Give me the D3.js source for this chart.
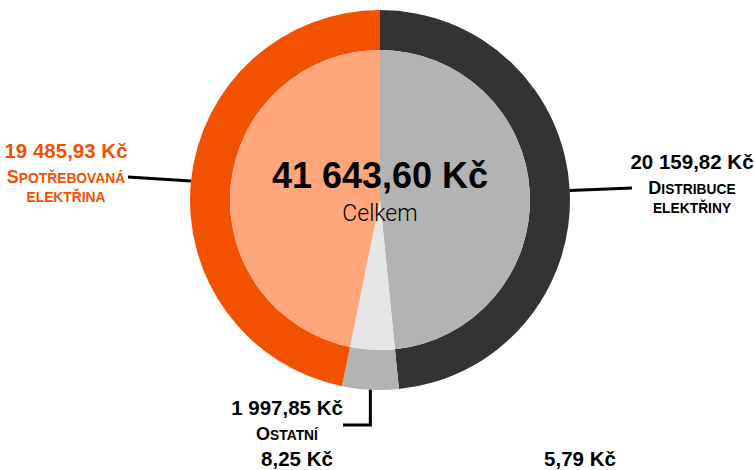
<!DOCTYPE html>
<html lang="cs">
<head>
    <meta charset="UTF-8">
    <title>Celkem</title>
    <script src="https://d3js.org/d3.v7.min.js"></script>
    <style>
      body { margin: 0; background: #fff; }
      text { font-family: "Liberation Sans", Arial, sans-serif; }
      .val { font-weight: bold; font-size: 20.5px; }
      .name { font-weight: bold; font-size: 13.8px; }
      .name .cap { font-size: 18px; }
    </style>
</head>
<body>
    <div id="viz"><svg width="754" height="470"></svg></div>

    <script>
      // slices, clockwise from the top
      let categories = ["Distribuce elektřiny", "Ostatní", "Spotřebovaná elektřina"]
      let values = [20159.82, 1997.85, 19485.93]
      let outerColors = ["#333333", "#b3b3b3", "#f25100"]
      let innerColors = ["#b3b3b3", "#e6e6e6", "#ffa67a"]
      // two tiny items listed under the chart (no visible slice)
      let extraValues = [8.25, 5.79]

      let cs = d3.formatLocale({decimal: ",", thousands: "\u00a0", grouping: [3], currency: ["", "\u00a0Kč"]})
      let fmt = cs.format("$,.2f")

      let svg = d3.select("svg")
      let cx = 380, cy = 200, R = 190, r = 150

      let pie = d3.pie().sort(null).value(d => d)
      let arcs = pie(values)

      let g = svg.append("g").attr("transform", `translate(${cx},${cy})`)

      // outer ring
      g.selectAll("path.outer").data(arcs).enter()
        .append("path").attr("class", "outer")
        .attr("d", d3.arc().innerRadius(r).outerRadius(R))
        .attr("fill", (d, i) => outerColors[i])

      // inner pie
      g.selectAll("path.inner").data(arcs).enter()
        .append("path").attr("class", "inner")
        .attr("d", d3.arc().innerRadius(0).outerRadius(r))
        .attr("fill", (d, i) => innerColors[i])

      // center total
      let total = d3.sum(values)
      g.append("text").attr("text-anchor", "middle").attr("y", -12)
        .style("font-weight", "bold").style("font-size", "36px")
        .text(fmt(total))
      g.append("text").attr("text-anchor", "middle").attr("y", 21)
        .style("font-family", "Roboto, 'Helvetica Neue', sans-serif")
        .style("font-weight", 300).style("font-size", "23px")
        .text("Celkem")

      // leader lines start on the outer edge, middle of each slice
      let edge = d3.arc().innerRadius(R).outerRadius(R)
      let labels = [
        {line: p => [p, [632 - cx, 188 - cy]], x: 692, y: 169, color: "#000"},
        {line: p => [p, [p[0], 425 - cy], [343 - cx, 425 - cy]], x: 287, y: 415, color: "#000"},
        {line: p => [p, [128 - cx, 177 - cy]], x: 66, y: 158, color: "#f25100"}
      ]

      arcs.forEach((d, i) => {
        let p = edge.centroid(d)
        let L = labels[i]
        g.append("path")
          .attr("d", d3.line()(L.line(p)))
          .attr("fill", "none").attr("stroke", "#000").attr("stroke-width", 3)

        let t = svg.append("g").attr("fill", L.color).attr("text-anchor", "middle")
        t.append("text").attr("class", "val").attr("x", L.x).attr("y", L.y).text(fmt(values[i]))
        // small caps by hand: first word keeps a big initial
        let words = categories[i].split(" ")
        words.forEach((w, j) => {
          let tx = t.append("text").attr("class", "name").attr("x", L.x)
            .attr("y", L.y + 25 + j * 19)
          if (j === 0) {
            tx.append("tspan").attr("class", "cap").text(w[0].toUpperCase())
            tx.append("tspan").text(w.slice(1).toUpperCase())
          } else {
            tx.text(w.toUpperCase())
          }
        })
      })

      // small values along the bottom
      let extraX = [297, 580]
      extraValues.forEach((v, i) => {
        svg.append("text").attr("class", "val").attr("text-anchor", "middle")
          .attr("x", extraX[i]).attr("y", 466).text(fmt(v))
      })
    </script>
</body>
</html>
